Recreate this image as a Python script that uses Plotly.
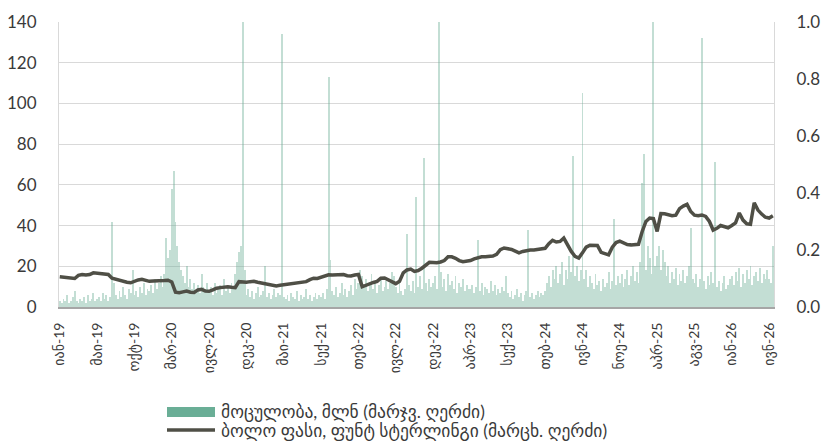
import plotly.graph_objects as go

# ---- data -------------------------------------------------------------
tick_labels = ["იან-19", "მაი-19", "ოქტ-19", "მარ-20", "ივლ-20", "დეკ-20",
               "მაი-21", "სექ-21", "თებ-22", "ივლ-22", "დეკ-22", "აპრ-23",
               "სექ-23", "თებ-24", "ივნ-24", "ნოე-24", "აპრ-25", "აგვ-25",
               "იან-26", "ივნ-26"]
tick_day = [i * 100 for i in range(len(tick_labels))]   # trading-day index of each label

# closing price, GBP (sampled every 10 trading days)
price = [
    0.106, 0.104, 0.104, 0.099, 0.100, 0.111, 0.114, 0.112, 0.114, 0.120,
    0.118, 0.116, 0.117, 0.114, 0.101, 0.097, 0.093, 0.090, 0.087, 0.085,
    0.091, 0.095, 0.097, 0.092, 0.090, 0.091, 0.091, 0.090, 0.093, 0.094,
    0.088, 0.052, 0.050, 0.053, 0.056, 0.052, 0.051, 0.060, 0.062, 0.056,
    0.055, 0.060, 0.066, 0.068, 0.070, 0.071, 0.069, 0.068, 0.089, 0.087,
    0.087, 0.089, 0.090, 0.087, 0.084, 0.081, 0.078, 0.076, 0.074, 0.076,
    0.078, 0.079, 0.081, 0.083, 0.085, 0.087, 0.089, 0.096, 0.101, 0.100,
    0.104, 0.111, 0.113, 0.112, 0.113, 0.114, 0.114, 0.110, 0.109, 0.112,
    0.114, 0.071, 0.077, 0.080, 0.086, 0.090, 0.101, 0.102, 0.096, 0.089,
    0.082, 0.090, 0.120, 0.130, 0.133, 0.125, 0.128, 0.136, 0.147, 0.157,
    0.156, 0.155, 0.158, 0.163, 0.176, 0.176, 0.171, 0.163, 0.159, 0.160,
    0.163, 0.169, 0.173, 0.176, 0.176, 0.177, 0.179, 0.185, 0.201, 0.207,
    0.206, 0.202, 0.196, 0.190, 0.195, 0.198, 0.200, 0.200, 0.202, 0.204,
    0.206, 0.222, 0.234, 0.228, 0.230, 0.242, 0.215, 0.195, 0.178, 0.172,
    0.190, 0.210, 0.217, 0.216, 0.216, 0.192, 0.186, 0.183, 0.210, 0.226,
    0.231, 0.224, 0.219, 0.218, 0.218, 0.220, 0.265, 0.300, 0.312, 0.310,
    0.265, 0.328, 0.327, 0.322, 0.320, 0.322, 0.345, 0.354, 0.360, 0.335,
    0.322, 0.320, 0.323, 0.318, 0.300, 0.270, 0.276, 0.286, 0.282, 0.278,
    0.286, 0.295, 0.330, 0.305, 0.292, 0.290, 0.366, 0.340, 0.326, 0.315,
    0.312, 0.320,
]

# traded volume, mln (sampled every 5 trading days)
volume = [
    3, 2, 4, 3, 6, 2, 3, 5, 8, 3, 2, 4, 3, 5, 2, 6, 3, 4, 7, 3,
    4, 5, 3, 7, 4, 6, 3, 5, 42, 12, 6, 4, 8, 5, 10, 6, 4, 9, 7, 18,
    6, 8, 5, 10, 7, 12, 6, 9, 8, 11, 7, 14, 9, 12, 15, 10, 16, 34, 24, 28,
    58, 67, 42, 30, 22, 18, 15, 12, 20, 10, 14, 9, 12, 8, 11, 7, 16, 10, 9, 12,
    8, 10, 6, 12, 7, 9, 11, 6, 14, 8, 10, 7, 12, 9, 16, 22, 27, 30, 140, 18,
    6, 9, 5, 8, 4, 7, 10, 5, 6, 8, 20, 5, 7, 4, 6, 9, 5, 7, 6, 134,
    5, 4, 6, 3, 7, 5, 4, 8, 3, 6, 4, 5, 9, 4, 6, 3, 5, 7, 4, 6,
    5, 7, 4, 9, 113, 23, 8, 6, 10, 5, 7, 12, 6, 9, 5, 8, 11, 6, 14, 9,
    12, 18, 15, 10, 14, 8, 12, 16, 9, 13, 7, 11, 14, 8, 10, 13, 9, 12, 17, 15,
    10, 7, 12, 8, 6, 9, 36, 11, 8, 13, 7, 54, 10, 15, 9, 73, 12, 8, 14, 10,
    12, 15, 9, 140, 17, 10, 14, 8, 16, 11, 13, 9, 15, 7, 12, 10, 14, 8, 11, 9,
    9, 11, 7, 10, 33, 8, 12, 6, 10, 9, 7, 13, 8, 11, 6, 9, 7, 10, 8, 15,
    7, 5, 8, 4, 6, 9, 5, 7, 3, 6, 8, 38, 5, 7, 4, 6, 8, 5, 7, 6,
    8, 12, 15, 10, 18, 14, 20, 12, 16, 22, 11, 18, 14, 25, 17, 74, 15, 20, 13, 18,
    105, 14, 18, 10, 15, 12, 9, 16, 11, 13, 8, 14, 10, 12, 17, 9, 13, 43, 11, 15,
    12, 16, 10, 14, 18, 11, 15, 20, 13, 17, 12, 22, 61, 75, 18, 30, 24, 16, 140, 20,
    25, 30, 18, 28, 22, 15, 20, 12, 17, 14, 19, 11, 16, 13, 18, 12, 15, 20, 39, 14,
    12, 16, 10, 14, 132, 13, 9, 15, 11, 17, 12, 71, 10, 13, 8, 12, 15, 9, 11, 14,
    15, 11, 17, 13, 19, 10, 16, 12, 18, 14, 20, 11, 15, 17, 13, 19, 12, 16, 14, 18,
    14, 12, 30, 10,
]

price_day = [i * 10 for i in range(len(price))]
volume_day = [i * 5 for i in range(len(volume))]

volume_name = "მოცულობა, მლნ (მარჯვ. ღერძი)"
price_name = "ბოლო ფასი, ფუნტ სტერლინგი (მარცხ. ღერძი)"

# ---- styles -----------------------------------------------------------
BAR_COLOR = "#6aae96"
LINE_COLOR = "#4f4f46"
TEXT_COLOR = "#3a3a3a"
GRID_COLOR = "#d9d9d9"
FONT = "Lato, DejaVu Sans, sans-serif"

fig = go.Figure()
fig.add_trace(go.Bar(
    x=volume_day, y=volume, name=volume_name,
    marker=dict(color=BAR_COLOR, line=dict(width=0)),
    opacity=0.4, width=2.5, showlegend=False,
))
fig.add_trace(go.Scatter(
    x=price_day, y=price, name=price_name, yaxis="y2",
    mode="lines", line=dict(color=LINE_COLOR, width=3.5),
    showlegend=False,
))

# manual legend (paper coordinates of the plot area)
W, H = 715.0, 285.0
def px(x):
    return (x - 59) / W
def py(y):
    return (307 - y) / H

fig.add_shape(type="rect", xref="paper", yref="paper",
              x0=px(167), x1=px(215), y0=py(417), y1=py(407),
              fillcolor=BAR_COLOR, line=dict(width=0))
fig.add_shape(type="line", xref="paper", yref="paper",
              x0=px(167), x1=px(215), y0=py(430), y1=py(430),
              line=dict(color=LINE_COLOR, width=3.5))
for text, y in [(volume_name, 411), (price_name, 430)]:
    fig.add_annotation(text=text, xref="paper", yref="paper",
                       x=px(219), y=py(y), xanchor="left", yanchor="middle",
                       showarrow=False, font=dict(size=17.5, color=TEXT_COLOR, family=FONT))

fig.update_layout(
    width=822, height=448,
    margin=dict(l=59, r=48, t=22, b=141, autoexpand=False),
    paper_bgcolor="white", plot_bgcolor="white",
    font=dict(family=FONT, color=TEXT_COLOR),
    bargap=0,
    xaxis=dict(
        range=[-2, 1913], tickmode="array", tickvals=tick_day, ticktext=tick_labels,
        tickangle=-90, showgrid=False, zeroline=False, automargin=False,
        showline=True, linecolor="#a6a6a6", linewidth=2,
        ticks="", ticklabelstandoff=8, tickfont=dict(size=14, color=TEXT_COLOR),
    ),
    yaxis=dict(
        range=[0, 140], dtick=20, tick0=0, showgrid=True, gridcolor=GRID_COLOR,
        gridwidth=1, zeroline=False, showline=True, linecolor=GRID_COLOR,
        automargin=False,
        ticks="", ticklabelstandoff=18, tickfont=dict(size=17, color=TEXT_COLOR),
    ),
    yaxis2=dict(
        range=[0, 1.0], dtick=0.2, tick0=0, tickformat=".1f", overlaying="y",
        side="right", showgrid=False, zeroline=False, showline=True,
        automargin=False,
        linecolor=GRID_COLOR, ticks="", ticklabelstandoff=18,
        tickfont=dict(size=17, color=TEXT_COLOR),
    ),
)

fig.write_html(
    "out.html",
    config={"displayModeBar": False},
    post_script="document.body.style.margin='0';document.body.style.padding='0';"
                "document.body.style.overflow='hidden';",
)
